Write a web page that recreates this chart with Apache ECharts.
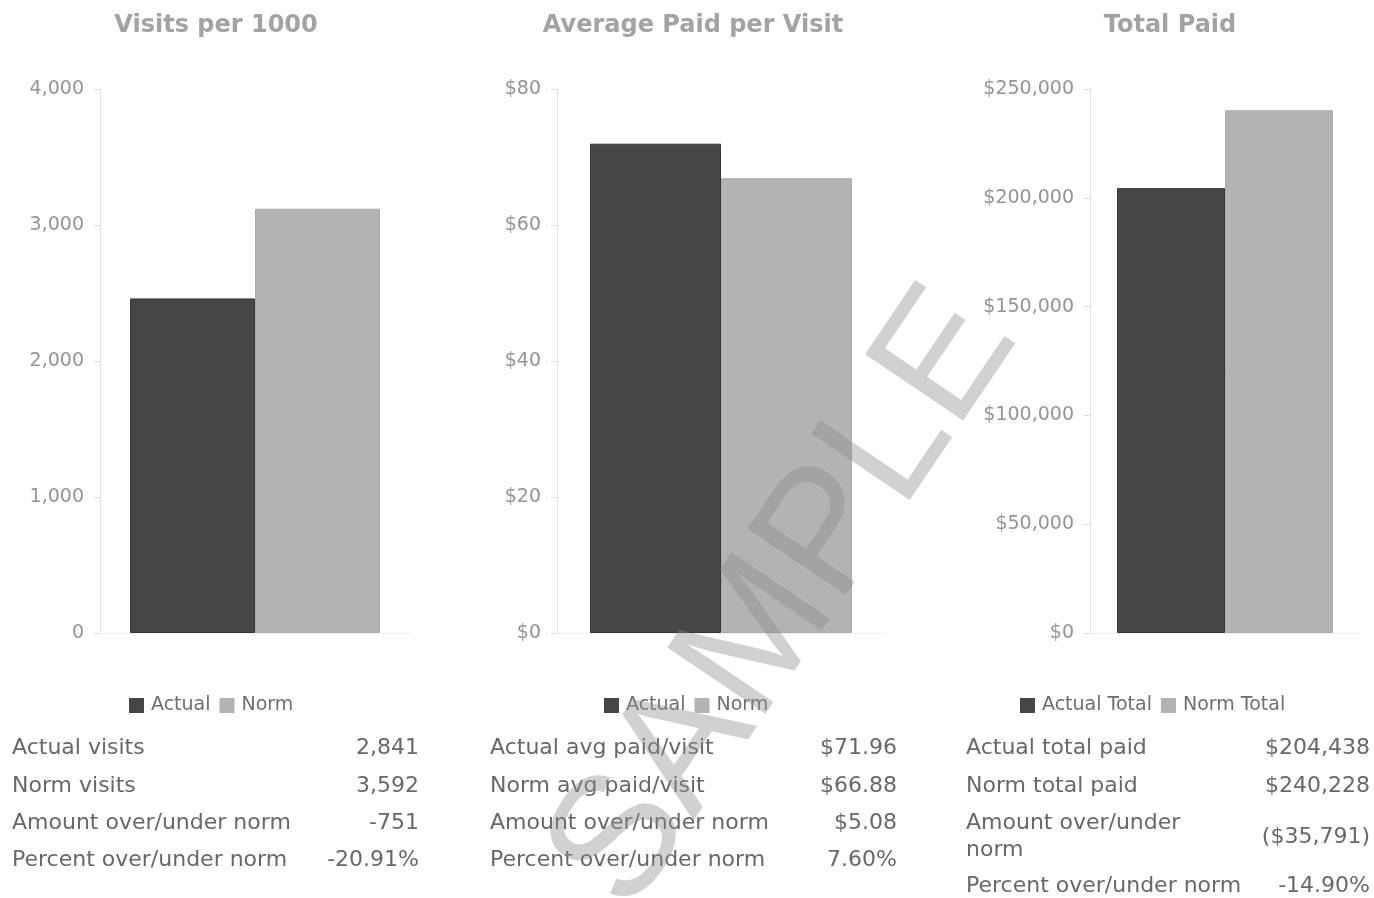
<!DOCTYPE html>
<html>
<head>
<meta charset="utf-8">
<title>Utilization summary</title>
<script src="https://cdn.jsdelivr.net/npm/echarts@6/dist/echarts.min.js"></script>
<style>
  html, body { margin: 0; padding: 0; background: #ffffff; }
  #chart { width: 1374px; height: 898px; }
</style>
</head>
<body>
<div id="chart"></div>
<script>
// Panel titles
const panelTitles = ['Visits per 1000', 'Average Paid per Visit', 'Total Paid'];

// Legend / series names per panel
const visitSeries = ['Actual', 'Norm'];
const avgSeries = ['Actual', 'Norm'];
const totalSeries = ['Actual Total', 'Norm Total'];

// Bar values per panel: [actual, norm]
const visitsPer1000 = [2460, 3120];
const avgPaidPerVisit = [71.96, 66.88];
const totalPaid = [204438, 240228];

// Summary table rows under each chart
const visitRowLabels = ['Actual visits', 'Norm visits', 'Amount over/under norm', 'Percent over/under norm'];
const visitRowValues = ['2,841', '3,592', '-751', '-20.91%'];
const avgRowLabels = ['Actual avg paid/visit', 'Norm avg paid/visit', 'Amount over/under norm', 'Percent over/under norm'];
const avgRowValues = ['$71.96', '$66.88', '$5.08', '7.60%'];
const totalRowLabels = ['Actual total paid', 'Norm total paid', 'Amount over/under\nnorm', 'Percent over/under norm'];
const totalRowValues = ['$204,438', '$240,228', '($35,791)', '-14.90%'];

const FONT = '"DejaVu Sans", Verdana, sans-serif';
const DARK = '#464646';
const LIGHT = '#b3b3b3';
const TEXT = '#686868';
const fmt = v => v.toLocaleString('en-US');

const panels = [
  { title: panelTitles[0], titleX: 216, names: visitSeries, data: visitsPer1000,
    gridLeft: 100, gridWidth: 310, barWidth: 125, max: 4000, interval: 1000,
    label: v => fmt(v), legendLeft: 124,
    rows: visitRowLabels, vals: visitRowValues, tx: 12, vx: 419 },
  { title: panelTitles[1], titleX: 693, names: avgSeries, data: avgPaidPerVisit,
    gridLeft: 557, gridWidth: 328, barWidth: 131, max: 80, interval: 20,
    label: v => '$' + fmt(v), legendLeft: 599,
    rows: avgRowLabels, vals: avgRowValues, tx: 490, vx: 897 },
  { title: panelTitles[2], titleX: 1170, names: totalSeries, data: totalPaid,
    gridLeft: 1090, gridWidth: 270, barWidth: 108, max: 250000, interval: 50000,
    label: v => '$' + fmt(v), legendLeft: 1015,
    rows: totalRowLabels, vals: totalRowValues, tx: 966, vx: 1370 }
];

const option = {
  backgroundColor: '#ffffff',
  animation: false,
  grid: [], xAxis: [], yAxis: [], legend: [], series: [], graphic: []
};

panels.forEach((p, i) => {
  // panel title
  option.graphic.push({
    type: 'text', z: 10,
    style: {
      x: p.titleX, y: 26, text: p.title, textAlign: 'center', textVerticalAlign: 'middle',
      fontFamily: FONT, fontSize: 24, fontWeight: 'bold', fill: '#a3a3a3'
    }
  });
  option.grid.push({ left: p.gridLeft, width: p.gridWidth, top: 89, height: 544 });
  option.xAxis.push({
    type: 'category', gridIndex: i, data: [''],
    axisLine: { show: true, lineStyle: { color: '#f0f0f0' } },
    axisTick: { show: false }, axisLabel: { show: false }
  });
  option.yAxis.push({
    type: 'value', gridIndex: i, min: 0, max: p.max, interval: p.interval,
    splitLine: { show: false },
    axisLine: { show: true, lineStyle: { color: '#e0e0e0' } },
    axisTick: { show: true, length: 6, lineStyle: { color: '#dcdcdc' } },
    axisLabel: { fontFamily: FONT, fontSize: 19, color: '#949494', margin: 16, formatter: p.label }
  });
  option.legend.push({
    data: p.names, left: p.legendLeft, top: 691, width: 420,
    orient: 'horizontal', itemWidth: 15, itemHeight: 15, itemGap: 9,
    icon: 'rect', selectedMode: false,
    itemStyle: { borderWidth: 0 },
    textStyle: { fontFamily: FONT, fontSize: 19, color: '#6e6e6e', padding: [0, 0, 0, 2] }
  });
  const colors = [DARK, LIGHT];
  p.names.forEach((name, k) => {
    option.series.push({
      type: 'bar', name: name, xAxisIndex: i, yAxisIndex: i,
      data: [p.data[k]], barWidth: p.barWidth, barGap: '0%',
      itemStyle: {
        color: colors[k],
        borderColor: k === 0 ? '#363636' : '#ababab', borderWidth: 1
      }
    });
  });
  // summary table
  const isRight = i === 2;
  const rowY = [748, 786, 823, isRight ? 886 : 860];
  p.rows.forEach((r, k) => {
    const wrapped = r.indexOf('\n') >= 0;
    option.graphic.push({
      type: 'text',
      style: {
        x: p.tx, y: rowY[k], text: r, textVerticalAlign: wrapped ? 'top' : 'middle',
        fontFamily: FONT, fontSize: 22, fill: TEXT, lineHeight: 27
      },
      y: wrapped ? -13 : 0
    });
    option.graphic.push({
      type: 'text',
      style: {
        x: p.vx, y: wrapped ? rowY[k] + 14 : rowY[k], text: p.vals[k],
        textAlign: 'right', textVerticalAlign: 'middle',
        fontFamily: FONT, fontSize: 22, fill: TEXT
      }
    });
  });
});

// SAMPLE watermark across the middle of the page
option.graphic.push({
  type: 'text', x: 785, y: 600, rotation: 56 * Math.PI / 180, z: 100,
  style: {
    text: 'SAMPLE', fontFamily: '"Liberation Sans", Arial, sans-serif', fontSize: 172,
    fill: 'rgba(140,140,140,0.40)', textAlign: 'center', textVerticalAlign: 'middle'
  }
});

const chart = echarts.init(document.getElementById('chart'), null, { renderer: 'canvas' });
chart.setOption(option);
</script>
</body>
</html>
